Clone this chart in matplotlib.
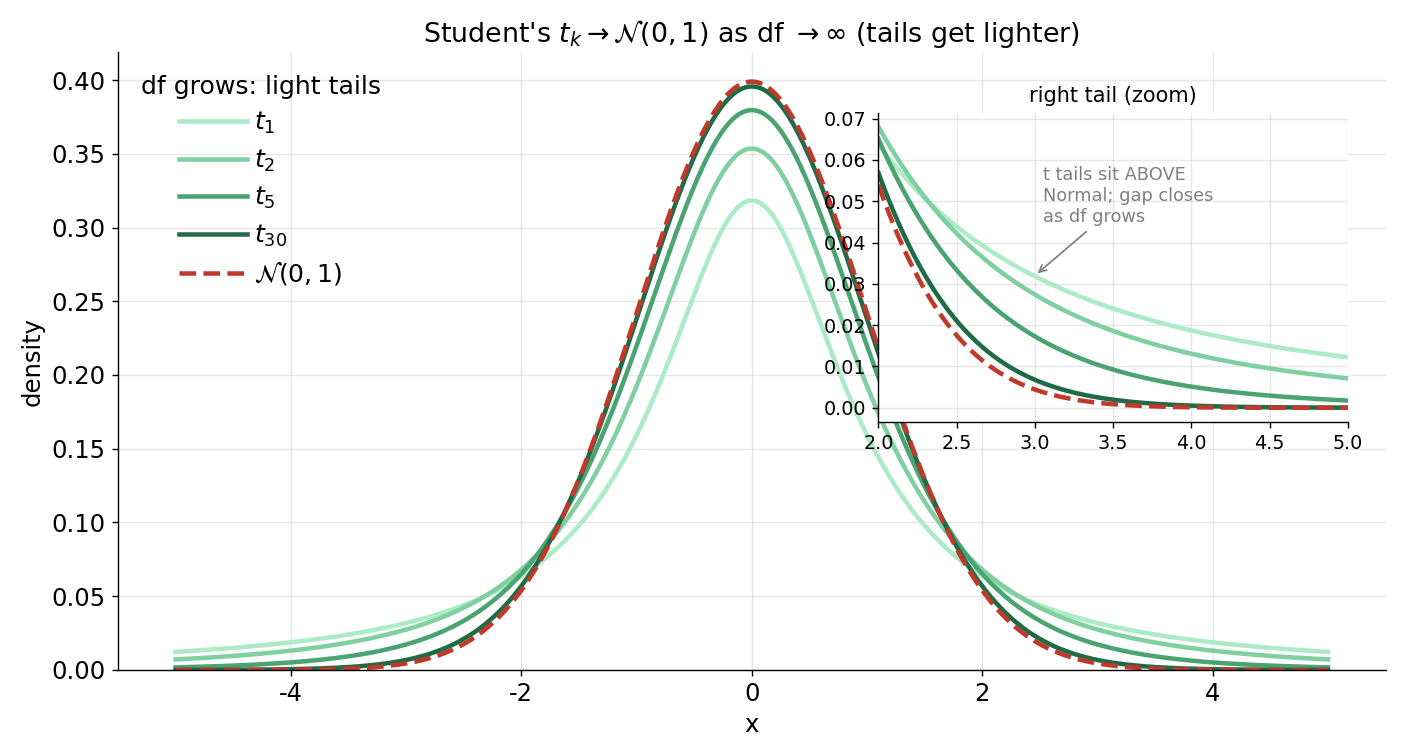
import math
import numpy as np
import matplotlib
matplotlib.use('Agg')
import matplotlib.pyplot as plt

plt.rcParams['axes.unicode_minus'] = False

# degrees of freedom shown, and their colours
DFS = [1, 2, 5, 30]
T_COLORS = ['#abebc6', '#7fcfa0', '#4aa472', '#1e6b45']
NORM_COLOR = '#c0392b'
X_RANGE = (-5, 5)
ZOOM_RANGE = (2, 5)


def t_pdf(x, k):
    c = math.gamma((k + 1) / 2) / (math.sqrt(k * math.pi) * math.gamma(k / 2))
    return c * (1 + x**2 / k) ** (-(k + 1) / 2)


def norm_pdf(x):
    return np.exp(-x**2 / 2) / np.sqrt(2 * np.pi)


x = np.linspace(*X_RANGE, 801)
xz = np.linspace(*ZOOM_RANGE, 401)

fig = plt.figure(figsize=(1401 / 125, 756 / 125), dpi=125)
ax = fig.add_axes([0.0842, 0.1138, 0.9048, 0.8172])

for k, c in zip(DFS, T_COLORS):
    ax.plot(x, t_pdf(x, k), color=c, lw=2.6, label=f'$t_{{{k}}}$')
ax.plot(x, norm_pdf(x), color=NORM_COLOR, lw=2.6, ls='--', label=r'$\mathcal{N}(0,1)$')

ax.set_ylim(bottom=0)
ax.grid(True, alpha=0.3)
ax.spines['top'].set_visible(False)
ax.spines['right'].set_visible(False)
ax.tick_params(labelsize=14)
ax.set_xlabel('x', fontsize=14)
ax.set_ylabel('density', fontsize=14)
ax.set_title(r"Student's $t_k \to \mathcal{N}(0,1)$ as df $\to\infty$ (tails get lighter)", fontsize=15.5)
ax.legend(loc='upper left', frameon=False, title='df grows: light tails', fontsize=14.5,
          title_fontsize=14.5, handlelength=2.7, handletextpad=0.25, labelspacing=0.45)

# inset: right tail
axin = fig.add_axes([0.627, 0.442, 0.335, 0.409])
for k, c in zip(DFS, T_COLORS):
    axin.plot(xz, t_pdf(xz, k), color=c, lw=2.6)
axin.plot(xz, norm_pdf(xz), color=NORM_COLOR, lw=2.6, ls='--')
axin.set_xlim(*ZOOM_RANGE)
axin.grid(True, alpha=0.3)
axin.spines['top'].set_visible(False)
axin.spines['right'].set_visible(False)
axin.tick_params(labelsize=11)
axin.set_title('right tail (zoom)', fontsize=12)
axin.annotate('t tails sit ABOVE\nNormal; gap closes\nas df grows', xy=(3.0, 0.032), xytext=(3.05, 0.045),
              fontsize=10.2, color='gray', arrowprops=dict(arrowstyle='->', color='gray'))

fig.savefig('out.png', dpi=125)
